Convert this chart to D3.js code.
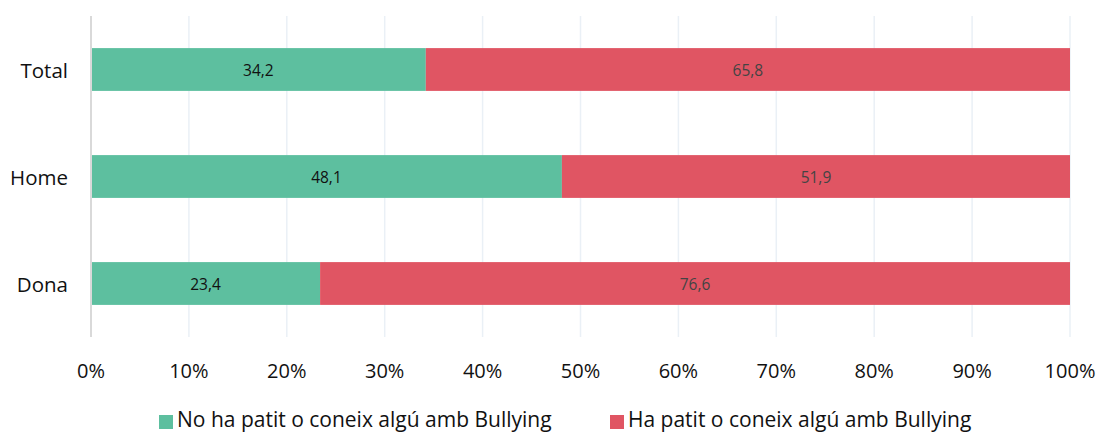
<!DOCTYPE html>
<html><head><meta charset="utf-8">
<script src="https://cdn.jsdelivr.net/npm/d3@7"></script>
<style>body{margin:0;background:#fff}svg{display:block}text{font-family:"Open Sans","Noto Sans",sans-serif}</style>
</head><body>
<svg id="c" width="1100" height="432"></svg>
<script>
const categories = ["Total", "Home", "Dona"];
const noBullying = [34.2, 48.1, 23.4];
const siBullying = [65.8, 51.9, 76.6];
const seriesNames = ["No ha patit o coneix algú amb Bullying", "Ha patit o coneix algú amb Bullying"];
const ticks = [0, 10, 20, 30, 40, 50, 60, 70, 80, 90, 100];
const colors = ["#5dbf9f", "#e05563"];
const labelColors = ["#111", "#444"];

const svg = d3.select("#c");
const L = 91, R = 1070, T = 16, B = 337;
const x = d3.scaleLinear().domain([0, 100]).range([L, R]);
const y = d3.scaleBand().domain(categories).range([T, B]).paddingInner(0.6).paddingOuter(0.3);

// gridlines
svg.append("g").selectAll("line").data(ticks.slice(1)).join("line")
  .attr("x1", d => x(d)).attr("x2", d => x(d)).attr("y1", T).attr("y2", B)
  .attr("stroke", "#eaf0f6").attr("stroke-width", 1.5);

const rows = categories.map((c, i) => ({c, vals: [noBullying[i], siBullying[i]]}));
rows.forEach(r => {
  let acc = 0;
  r.vals.forEach((v, k) => {
    svg.append("rect").attr("x", x(acc)).attr("width", x(acc + v) - x(acc))
      .attr("y", y(r.c)).attr("height", y.bandwidth())
      .attr("fill", colors[k]);
    svg.append("text").attr("x", x(acc + v / 2)).attr("y", y(r.c) + y.bandwidth() / 2)
      .attr("text-anchor", "middle").attr("dominant-baseline", "central")
      .attr("font-size", 15.5).attr("fill", labelColors[k])
      .text(v.toFixed(1).replace(".", ","));
    acc += v;
  });
});

// y axis line
svg.append("line").attr("x1", L).attr("x2", L).attr("y1", T).attr("y2", B)
  .attr("stroke", "#d9d9d9").attr("stroke-width", 2);

// category labels
svg.append("g").selectAll("text").data(categories).join("text")
  .attr("x", 68).attr("y", d => y(d) + y.bandwidth() / 2)
  .attr("text-anchor", "end").attr("dominant-baseline", "central")
  .attr("font-size", 20.5).attr("fill", "#111").text(d => d);

// x tick labels
svg.append("g").selectAll("text").data(ticks).join("text")
  .attr("x", d => x(d)).attr("y", 370)
  .attr("text-anchor", "middle").attr("dominant-baseline", "central")
  .attr("font-size", 20).attr("fill", "#111").text(d => d + "%");

// legend
const lx = [159, 610];
seriesNames.forEach((n, k) => {
  svg.append("rect").attr("x", lx[k]).attr("y", 415).attr("width", 14).attr("height", 14).attr("fill", colors[k]);
  svg.append("text").attr("x", lx[k] + 18).attr("y", 426.5).attr("font-size", 21).attr("fill", "#111").text(n);
});
</script>
</body></html>
